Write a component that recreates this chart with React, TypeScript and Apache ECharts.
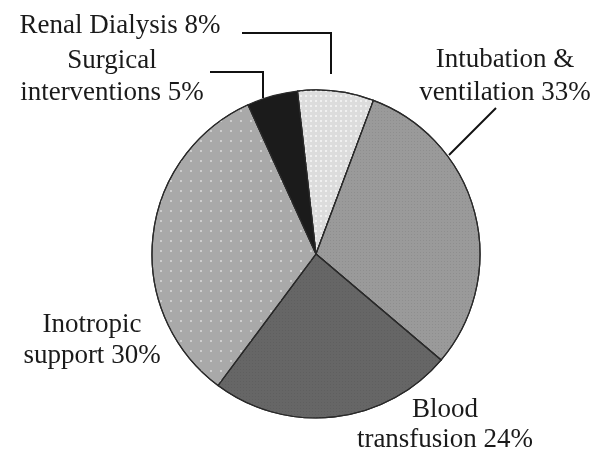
import React, { useEffect, useRef } from "react";
import * as echarts from "echarts";

// Categories (line breaks as printed in the reference)
const categories = [
  "Renal Dialysis",
  "Intubation &\nventilation",
  "Blood\ntransfusion",
  "Inotropic\nsupport",
  "Surgical\ninterventions",
];
// Percentages printed in the labels
const labelPercents = [8, 33, 24, 30, 5];
// Slice shares as drawn in the reference picture (angles measured)
const sliceShares = [7.5, 30.5, 24, 33, 5];
const sliceColors = ["#dcdcdc", "#9a9a9a", "#666666", "#a9a9a9", "#1b1b1b"];

export default function App() {
  const ref = useRef<HTMLDivElement>(null);
  useEffect(() => {
    if (!ref.current) return;
    const chart = echarts.init(ref.current, null, { renderer: "svg" });

    // label anchor: centre x, first baseline, line step
    const labelPos = [
      { x: 120, base: 33, step: 32 },
      { x: 505, base: 67, step: 33 },
      { x: 445, base: 417, step: 30 },
      { x: 92, base: 332, step: 31 },
      { x: 112, base: 68, step: 32 },
    ];

    const textEls: any[] = [];
    categories.forEach((c, i) => {
      const lines = c.split("\n");
      lines[lines.length - 1] += ` ${labelPercents[i]}%`;
      lines.forEach((ln, k) => {
        textEls.push({
          type: "text",
          x: labelPos[i].x,
          y: labelPos[i].base + k * labelPos[i].step - 9,
          z: 10,
          style: {
            text: ln,
            fontFamily: "Liberation Serif",
            fontSize: 27,
            fill: "#1a1a1a",
            align: "center",
            verticalAlign: "middle",
          },
        });
      });
    });

    const leaderEls = [
      { type: "polyline", z: 10, shape: { points: [[242, 33], [331, 33], [331, 74]] }, style: { stroke: "#111", lineWidth: 2, fill: "none" } },
      { type: "polyline", z: 10, shape: { points: [[210, 72], [263, 72], [263, 98]] }, style: { stroke: "#111", lineWidth: 2, fill: "none" } },
      { type: "line", z: 10, shape: { x1: 496, y1: 108, x2: 449, y2: 155 }, style: { stroke: "#111", lineWidth: 2 } },
    ];

    const dotDecal = (color: string, size: number, gap: number) => ({
      symbol: "rect",
      symbolSize: 1,
      color,
      dashArrayX: [size, gap],
      dashArrayY: [size, gap],
    });

    const decals = [
      dotDecal("rgba(245,245,245,0.8)", 2, 3),
      dotDecal("rgba(130,130,130,0.5)", 1, 2),
      dotDecal("rgba(90,90,90,0.6)", 1, 2),
      dotDecal("rgba(230,230,230,0.6)", 2, 8),
      null,
    ];

    chart.setOption({
      animation: false,
      series: [
        {
          type: "pie",
          center: [316, 254],
          radius: 164,
          startAngle: 96.5,
          clockwise: true,
          silent: true,
          label: { show: false },
          labelLine: { show: false },
          itemStyle: { borderColor: "#2a2a2a", borderWidth: 1.2 },
          data: categories.map((c, i) => ({
            name: c,
            value: sliceShares[i],
            itemStyle: {
              color: sliceColors[i],
              ...(decals[i] ? { decal: decals[i] } : {}),
            },
          })),
        },
      ],
      graphic: [...leaderEls, ...textEls],
    });

    return () => chart.dispose();
  }, []);

  return (
    <div
      ref={ref}
      style={{ position: "fixed", left: 0, top: 0, width: 606, height: 452 }}
    />
  );
}
